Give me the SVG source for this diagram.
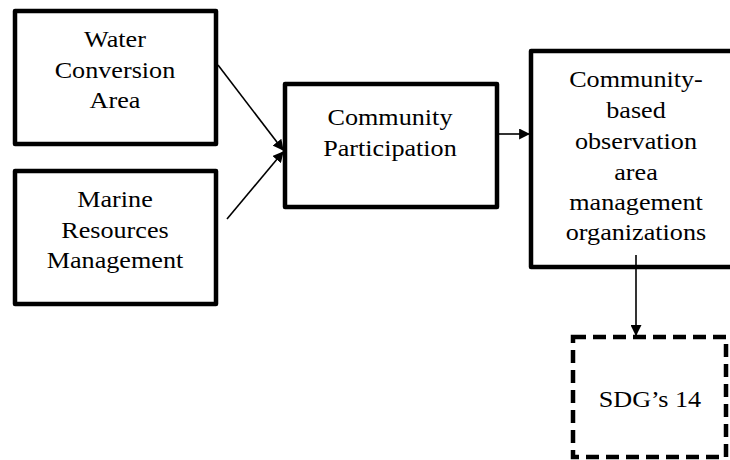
<svg xmlns="http://www.w3.org/2000/svg" width="730" height="460" viewBox="0 0 730 460">
<style>
.box{fill:#fff;stroke:#000;stroke-width:4.5;stroke-linejoin:round}
.dash{fill:#fff;stroke:#000;stroke-width:4.5;stroke-dasharray:13 7}
.t{font-family:"Liberation Serif","Times New Roman",serif;font-size:24px;fill:#000;text-anchor:middle;transform-box:fill-box;transform-origin:center;transform:scaleX(1.09)}
</style>
<defs>
<marker id="ah2" viewBox="0 0 10 10" refX="9" refY="5" markerWidth="11" markerHeight="11" markerUnits="userSpaceOnUse" orient="auto">
<path d="M0,0 L10,5 L0,10 z" fill="#000"/>
</marker>
</defs>
<g id="water">
<rect class="box" x="15" y="11" width="201" height="133"/>
<text class="t" x="115" y="47">Water</text>
<text class="t" x="115" y="78">Conversion</text>
<text class="t" x="115" y="108">Area</text>
</g>
<g id="marine">
<rect class="box" x="15" y="171" width="201" height="133"/>
<text class="t" x="115" y="207">Marine</text>
<text class="t" x="115" y="238">Resources</text>
<text class="t" x="115" y="268">Management</text>
</g>
<g id="participation">
<rect class="box" x="285" y="84" width="212" height="123"/>
<text class="t" x="390" y="125">Community</text>
<text class="t" x="390" y="156">Participation</text>
</g>
<g id="organizations">
<rect class="box" x="531" y="51" width="210" height="216"/>
<text class="t" x="636" y="87">Community-</text>
<text class="t" x="636" y="118">based</text>
<text class="t" x="636" y="149">observation</text>
<text class="t" x="636" y="180">area</text>
<text class="t" x="636" y="210">management</text>
<text class="t" x="636" y="240">organizations</text>
</g>
<g id="sdg">
<rect class="dash" x="573" y="337" width="153" height="120"/>
<text class="t" x="650" y="407">SDG’s 14</text>
</g>
<g id="connectors">
<line x1="218" y1="65" x2="283" y2="150" stroke="#000" stroke-width="1.6" marker-end="url(#ah2)"/>
<line x1="227" y1="219" x2="283" y2="152" stroke="#000" stroke-width="1.6" marker-end="url(#ah2)"/>
<line x1="499" y1="134" x2="529" y2="134" stroke="#000" stroke-width="1.6" marker-end="url(#ah2)"/>
<line x1="636" y1="255" x2="636" y2="335" stroke="#000" stroke-width="1.6" marker-end="url(#ah2)"/>
</g>
</svg>
